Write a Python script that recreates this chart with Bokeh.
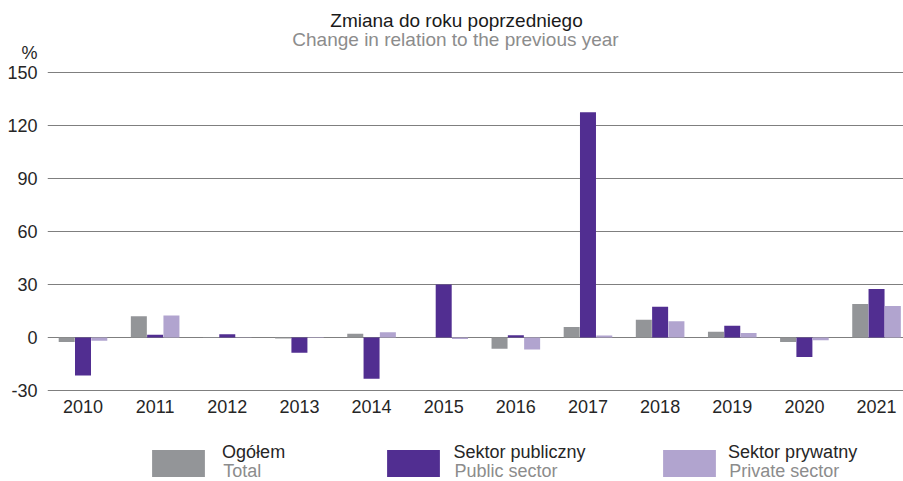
from bokeh.plotting import figure
from bokeh.models import (ColumnDataSource, Range1d, FixedTicker, Legend, LegendItem, Label)
from bokeh.transform import dodge
from bokeh.layouts import column
from bokeh.embed import file_html
from bokeh.resources import INLINE

# ---- data ----
years = [2010, 2011, 2012, 2013, 2014, 2015, 2016, 2017, 2018, 2019, 2020, 2021]
total = [-2.6, 12.0, 0.3, -0.5, 2.1, 0.2, -6.4, 6.0, 10.0, 3.2, -2.5, 18.9]
public = [-21.5, 1.5, 1.9, -8.7, -23.4, 30.0, 1.3, 127.5, 17.4, 6.6, -11.1, 27.4]
private = [-1.9, 12.5, 0.2, -0.3, 3.0, -0.9, -6.8, 1.1, 9.2, 2.6, -1.5, 17.9]
y_ticks = [-30, 0, 30, 60, 90, 120, 150]
series_pl = ["Ogółem", "Sektor publiczny", "Sektor prywatny"]
series_en = ["Total", "Public sector", "Private sector"]
series_cols = ["total", "public", "private"]
title_pl = "Zmiana do roku poprzedniego"
title_en = "Change in relation to the previous year"
unit = "%"

colors = ["#939598", "#512e91", "#b1a4cf"]
FONT = "Liberation Sans"
DARK = "#262626"
GREY = "#8c8c8c"

# ---- layout constants (pixels) ----
W = 903
MAIN_H = 424
LEG_H = 57
FRAME_L = 47            # frame left inside the figure
PX_YEAR = 72.14         # pixels per category
C0 = 35.5               # first category centre from frame left
PX_VAL = 318 / 180.0    # pixels per percent
TOP_PAD = 72            # pixels between frame top and the 150 line
BOT_PAD = 4             # pixels between -30 line and frame bottom

x0 = years[0] - C0 / PX_YEAR
x1 = years[0] + (W - FRAME_L - C0) / PX_YEAR
y0 = y_ticks[0] - BOT_PAD / PX_VAL
y1 = y_ticks[-1] + TOP_PAD / PX_VAL

source = ColumnDataSource(dict(year=years, total=total, public=public, private=private))

p = figure(width=W, height=MAIN_H, output_backend="svg", toolbar_location=None,
           x_range=Range1d(x0, x1), y_range=Range1d(y0, y1),
           min_border_left=FRAME_L, min_border_right=0, min_border_top=0,
           min_border_bottom=MAIN_H - 394)
p.outline_line_color = None

off = 16.3 / PX_YEAR
bw = 16.0 / PX_YEAR
offsets = [-off, 0, off]
for i in range(3):
    p.vbar(x=dodge("year", offsets[i]), top=series_cols[i], bottom=0, width=bw,
           source=source, fill_color=colors[i], line_color=None)

unit_pos = 161
p.xaxis.ticker = FixedTicker(ticks=years)
p.yaxis.ticker = FixedTicker(ticks=y_ticks + [unit_pos])
overrides = {t: str(t) for t in y_ticks}
overrides[unit_pos] = unit
p.yaxis.major_label_overrides = overrides
for ax in (p.xaxis[0], p.yaxis[0]):
    ax.axis_line_color = None
    ax.major_tick_line_color = None
    ax.minor_tick_line_color = None
    ax.major_tick_out = 0
    ax.major_tick_in = 0
    ax.minor_tick_out = 0
    ax.major_label_text_font = FONT
    ax.major_label_text_font_size = "18px"
    ax.major_label_text_color = DARK
p.xaxis.major_label_standoff = 5
p.yaxis.major_label_standoff = 10
p.xgrid.grid_line_color = None
p.ygrid.ticker = FixedTicker(ticks=y_ticks)
p.ygrid.grid_line_color = "#7f7f7f"
p.ygrid.grid_line_width = 1.2

# titles (positioned in chart units, centred over the page)
p.add_layout(Label(x=years[0] + (456 - 82.5) / PX_YEAR, y=y_ticks[-1] + 52.3 / PX_VAL,
                   text=title_pl, text_align="center", text_baseline="middle",
                   text_font=FONT, text_font_size="19px", text_color="#1a1a1a"))
p.add_layout(Label(x=years[0] + (455 - 82.5) / PX_YEAR, y=y_ticks[-1] + 32.8 / PX_VAL,
                   text=title_en, text_align="center", text_baseline="middle",
                   text_font=FONT, text_font_size="19px", text_color=GREY))

# ---- legend strip (its x/y units are page pixels) ----
lf = figure(width=W, height=LEG_H, output_backend="svg", toolbar_location=None,
            x_range=Range1d(FRAME_L, W), y_range=Range1d(MAIN_H + LEG_H, MAIN_H),
            x_axis_type=None, y_axis_type=None,
            min_border_left=FRAME_L, min_border_right=0, min_border_top=0, min_border_bottom=0)
lf.outline_line_color = None
lf.grid.visible = False

GW, GH = 66, 34
leg_vx = [98.1, 333.4, 609.1]
standoffs = [11, 7, 6]
text_x = [222.7, 454, 728.7]
for i in range(3):
    r = lf.vbar(x="year", top=series_cols[i], width=0.5, source=source,
                fill_color=colors[i], line_color=None, visible=False)
    lg = Legend(items=[LegendItem(label=series_pl[i] + "\n ", renderers=[r])],
                location=(leg_vx[i], -2.5), orientation="horizontal",
                glyph_width=GW, glyph_height=GH, label_standoff=standoffs[i],
                padding=0, margin=0, spacing=0,
                background_fill_alpha=0, border_line_alpha=0,
                label_text_font=FONT, label_text_font_size="18px",
                label_text_line_height=0.9, label_text_color=DARK)
    lf.add_layout(lg)
    lf.add_layout(Label(x=text_x[i], y=470.5, text=series_en[i],
                        text_align="left", text_baseline="middle", text_font=FONT,
                        text_font_size="18px", text_color=GREY))

layout = column(p, lf, spacing=0)
open("out.html", "w").write(file_html(layout, INLINE))
